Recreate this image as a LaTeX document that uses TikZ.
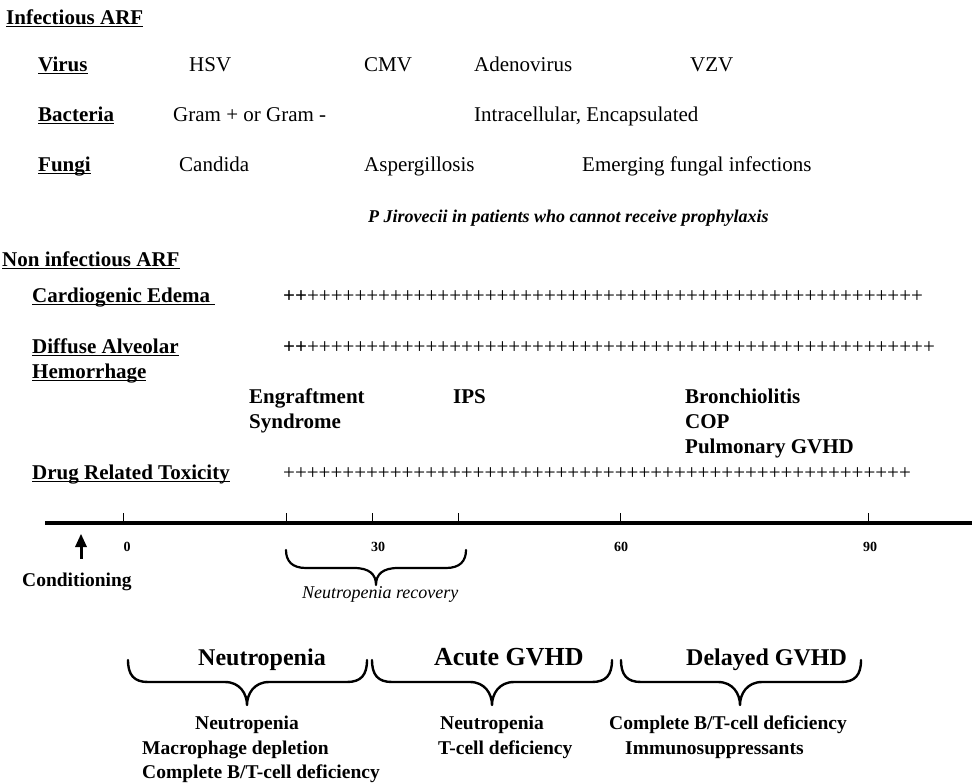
\documentclass[tikz,border=0pt]{standalone}
\usepackage{fontspec}
\setmainfont{Liberation Serif}
\ExplSyntaxOn
\cs_new:Npn \myrep #1#2 { \prg_replicate:nn {#1} {#2} }
\ExplSyntaxOff
\newcommand\myul[1]{\setbox0\hbox{#1}\rlap{\rule[-3pt]{\wd0}{1.4pt}}\box0}
\newcommand\mybrace[7]{% x1 x2 xt ytop ymid ybot width
  \draw[line width=#7, line cap=round, line join=round]
    (#1,#4) .. controls (#1,{#5-7}) and ({#1+6},#5) .. ({#1+20},#5)
    -- ({#3-22},#5) .. controls ({#3-7},#5) and (#3,{#6-11}) .. (#3,#6)
    .. controls (#3,{#6-11}) and ({#3+7},#5) .. ({#3+22},#5)
    -- ({#2-20},#5) .. controls ({#2-6},#5) and (#2,{#5-7}) .. (#2,#4);}
\begin{document}
\begin{tikzpicture}[x=1pt,y=-1pt,
  lab/.style={anchor=base west,inner sep=0pt,font=\fontsize{21}{25}\selectfont},
  blab/.style={anchor=base west,inner sep=0pt,font=\fontsize{21}{25}\selectfont\bfseries},
  llab/.style={anchor=base west,inner sep=0pt,font=\fontsize{19.5}{23}\selectfont\bfseries},
  hlab/.style={anchor=base west,inner sep=0pt,font=\fontsize{24}{28}\selectfont\bfseries},
  num/.style={anchor=base,inner sep=0pt,font=\fontsize{14}{16}\selectfont\bfseries},
  tick/.style={line width=1pt}]
\useasboundingbox (0,0) rectangle (977,782);
% Infectious
\node[blab] (inf) at (6,24) {\myul{Infectious ARF}};
\node[blab] (virus) at (38,71) {\myul{Virus}};
\node[lab] (hsv) at (189,71) {HSV};
\node[lab] (cmv) at (364,71) {CMV};
\node[lab] (adeno) at (474,71) {Adenovirus};
\node[lab] (vzv) at (690,71) {VZV};
\node[blab] (bact) at (38,121) {\myul{Bacteria}};
\node[lab] (gram) at (173,121) {Gram + or Gram -};
\node[lab] (intra) at (474,121) {Intracellular, Encapsulated};
\node[blab] (fungi) at (38,171) {\myul{Fungi}};
\node[lab] (cand) at (179,171) {Candida};
\node[lab] (asp) at (364,171) {Aspergillosis};
\node[lab] (emerg) at (582,171) {Emerging fungal infections};
\node[anchor=base west,inner sep=0pt,font=\fontsize{18}{22}\selectfont\bfseries\itshape] (pj) at (368,222) {P Jirovecii in patients who cannot receive prophylaxis};
% Non infectious
\node[blab] (nonin) at (2,266) {\myul{Non infectious ARF}};
\node[blab] (cardio) at (32,302) {\myul{Cardiogenic Edema~}};
\node[lab] (p1) at (283,302) {{\bfseries ++}\myrep{52}{+}};
\node[blab] (dah1) at (32,353) {\myul{Diffuse Alveolar}};
\node[blab] (dah2) at (32,378) {\myul{Hemorrhage}};
\node[lab] (p2) at (283,353) {{\bfseries ++}\myrep{53}{+}};
\node[blab] (eng1) at (249,403) {Engraftment};
\node[blab] (eng2) at (249,428) {Syndrome};
\node[blab] (ips) at (453,403) {IPS};
\node[blab] (bron) at (685,403) {Bronchiolitis};
\node[blab] (cop) at (685,428) {COP};
\node[blab] (pgvhd) at (685,453) {Pulmonary GVHD};
\node[blab] (drug) at (32,479) {\myul{Drug Related Toxicity}};
\node[lab] (p3) at (283,479) {\myrep{53}{+}};
% Axis
\coordinate (axL) at (45,523);
\coordinate (axR) at (972,523);
\draw[line width=3.2pt] (axL) -- (axR);
\foreach \x in {123,286,372,458,620,868} \draw[tick] (\x,523) -- (\x,513);
\node[num] (n0) at (127,551) {0};
\node[num] (n30) at (378,551) {30};
\node[num] (n60) at (621,551) {60};
\node[num] (n90) at (870,551) {90};
% Conditioning arrow
\fill (79.5,559) rectangle (82.5,546);
\fill (75,547) -- (87,547) -- (81,534) -- cycle;
\node[anchor=base west,inner sep=0pt,font=\fontsize{19.5}{23}\selectfont\bfseries] (cond) at (22,586) {Conditioning};
% Neutropenia recovery
\mybrace{286}{466}{376}{550}{568}{585}{2.2pt}
\node[anchor=base west,inner sep=0pt,font=\fontsize{18}{22}\selectfont\itshape] (nrec) at (302,598) {Neutropenia recovery};
% Bottom braces
\mybrace{128}{367}{247}{660}{682}{705}{2.4pt}
\mybrace{372}{612}{492}{660}{682}{705}{2.4pt}
\mybrace{621}{861}{740}{660}{682}{705}{2.4pt}
\node[hlab] (h1) at (198,665) {Neutropenia};
\node[hlab,font=\fontsize{26}{30}\selectfont\bfseries] (h2) at (434,665) {Acute GVHD};
\node[hlab] (h3) at (686,665) {Delayed GVHD};
\node[llab] (a1) at (195,729) {Neutropenia};
\node[llab] (a2) at (142,754) {Macrophage depletion};
\node[llab] (a3) at (142,778) {Complete B/T-cell deficiency};
\node[llab] (b1) at (440,729) {Neutropenia};
\node[llab] (b2) at (438,754) {T-cell deficiency};
\node[llab] (c1) at (609,729) {Complete B/T-cell deficiency};
\node[llab] (c2) at (625,754) {Immunosuppressants};
\end{tikzpicture}
\end{document}
